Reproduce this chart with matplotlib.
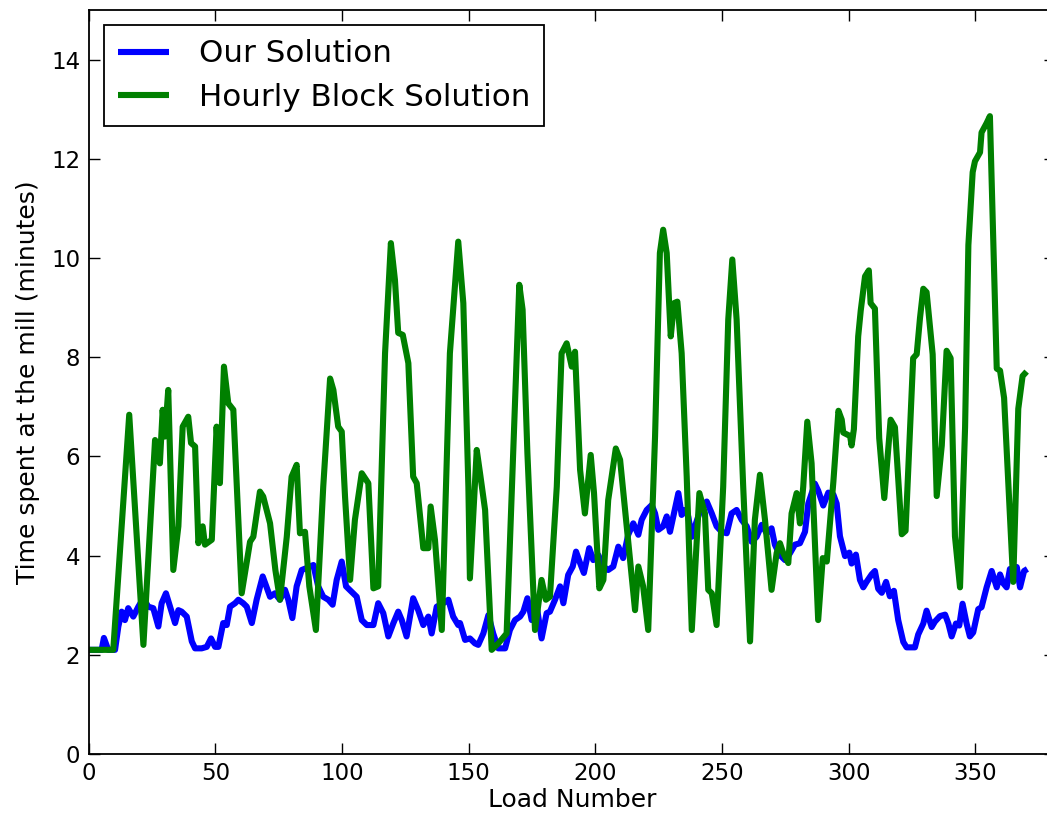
import matplotlib
matplotlib.use("Agg")
import matplotlib.pyplot as plt

# ---- data ----
our_load = [0, 5.1, 6.0, 7.7, 10.4, 11.7, 13.0, 14.3, 15.6, 17.6, 19.6, 21.6, 23.5, 25.5, 27.5,
            28.8, 30.5, 32.1, 34.1, 35.4, 36.7, 38.7, 40.7, 42.0, 44.6, 46.6, 48.3, 49.9, 51.2,
            53.1, 54.5, 55.8, 57.8, 59.1, 61.0, 62.4, 64.4, 66.3, 68.7, 71.6, 73.5, 75.5, 77.5,
            78.8, 80.4, 82.1, 84.1, 86.1, 88.7, 90.6, 92.6, 94.6, 96.3, 97.9, 99.9, 101.6, 103.8,
            105.8, 107.8, 109.8, 112.4, 114.3, 116.3, 118.3, 120.3, 122.2, 123.6, 125.5, 128.1,
            130.1, 132.1, 134.1, 135.4, 137.4, 140.0, 142.0, 143.9, 145.9, 146.6, 148.6, 150.5,
            152.5, 153.8, 155.8, 157.8, 159.7, 161.7, 164.4, 166.3, 168.3, 170.3, 171.6, 173.2,
            174.9, 176.9, 178.8, 180.8, 182.1, 184.1, 186.1, 187.4, 189.3, 191.1, 192.4, 194.0,
            195.5, 197.6, 199.2, 201.2, 203.2, 205.1, 207.1, 209.1, 211.0, 213.0, 215.0, 217.0,
            218.3, 220.3, 222.3, 223.6, 224.9, 226.8, 228.2, 229.5, 230.8, 232.8, 234.1, 235.4,
            236.7, 238.1, 240.0, 242.0, 244.0, 246.0, 247.9, 249.9, 251.9, 253.8, 255.8, 257.8,
            259.8, 261.7, 263.7, 265.7, 267.7, 269.6, 270.9, 272.9, 274.9, 276.9, 278.8, 280.8,
            282.8, 284.1, 286.7, 288.0, 290.0, 292.0, 294.0, 295.3, 296.6, 298.6, 300.3, 301.2,
            302.9, 304.5, 305.8, 307.1, 309.1, 310.4, 311.7, 313.1, 314.8, 316.3, 317.9, 319.6,
            321.6, 322.9, 326.2, 327.5, 329.5, 330.8, 332.8, 334.1, 336.1, 338.1, 339.4, 340.7,
            342.4, 343.7, 345.0, 346.6, 347.9, 349.2, 351.2, 352.5, 354.5, 356.5, 358.5, 359.8,
            361.1, 362.4, 363.7, 365.0, 366.4, 367.7, 369.3, 370.6]
our_time = [2.10, 2.10, 2.34, 2.10, 2.10, 2.57, 2.87, 2.70, 2.94, 2.77, 2.97, 3.14, 2.97, 2.94, 2.57,
            3.04, 3.24, 2.97, 2.64, 2.90, 2.87, 2.77, 2.27, 2.13, 2.13, 2.16, 2.33, 2.16, 2.16,
            2.64, 2.60, 2.97, 3.04, 3.11, 3.04, 2.97, 2.64, 3.11, 3.58, 3.17, 3.24, 3.11, 3.31,
            3.11, 2.74, 3.38, 3.71, 3.75, 3.81, 3.38, 3.17, 3.11, 3.01, 3.51, 3.88, 3.38, 3.27,
            3.17, 2.70, 2.60, 2.60, 3.04, 2.84, 2.37, 2.64, 2.87, 2.70, 2.37, 3.14,
            2.90, 2.60, 2.77, 2.43, 2.97, 3.04, 3.11, 2.77, 2.60, 2.64, 2.30, 2.33,
            2.23, 2.20, 2.43, 2.80, 2.43, 2.13, 2.13, 2.50, 2.70, 2.77, 2.87, 3.14,
            2.70, 2.97, 2.33, 2.84, 2.87, 3.11, 3.38, 3.04, 3.61, 3.78, 4.08, 3.85,
            3.65, 4.15, 3.91, 4.01, 3.78, 3.71, 3.78, 4.18, 3.95, 4.42, 4.65, 4.42,
            4.72, 4.92, 5.02, 4.85, 4.52, 4.59, 4.79, 4.48, 4.79, 5.26, 4.82, 4.92,
            4.79, 4.38, 4.69, 4.99, 5.09, 4.85, 4.59, 4.48, 4.45, 4.85, 4.92, 4.72,
            4.59, 4.28, 4.38, 4.62, 4.45, 4.55, 4.22, 4.01, 3.91, 4.05, 4.22, 4.25,
            4.48, 5.05, 5.45, 5.31, 5.01, 5.27, 5.23, 5.05, 4.39, 3.99, 4.06, 3.84,
            4.02, 3.51, 3.36, 3.47, 3.62, 3.69, 3.33, 3.25, 3.47, 3.18, 3.29, 2.70,
            2.26, 2.15, 2.15, 2.41, 2.63, 2.89, 2.56, 2.67, 2.78, 2.81, 2.63, 2.37,
            2.63, 2.59, 3.03, 2.63, 2.37, 2.45, 2.92, 2.96, 3.36, 3.69, 3.36, 3.62,
            3.44, 3.36, 3.73, 3.55, 3.77, 3.36, 3.69, 3.73]

hourly_load = [0, 9.7, 16.0, 21.6, 26.2, 28.1, 29.2, 30.1, 31.4, 33.4, 35.4, 37.1, 39.3, 40.4, 42.0,
               43.3, 45.0, 45.9, 48.6, 50.5, 51.8, 53.4, 55.1, 57.1, 60.4, 63.7, 65.0, 67.6, 68.9,
               71.6, 73.7, 75.5, 78.2, 80.1, 82.1, 83.4, 85.4, 87.1, 89.7, 92.6, 95.3, 96.6, 98.5,
               99.9, 101.2, 103.2, 105.1, 107.8, 110.4, 112.4, 114.3, 117.0, 119.3, 120.9, 122.2,
               124.0, 126.2, 128.1, 129.5, 132.1, 134.1, 135.0, 136.7, 139.4, 142.6, 145.9, 147.9,
               149.9, 150.5, 153.2, 154.5, 156.5, 159.1, 161.7, 165.0, 167.6, 170.0, 171.3, 173.2,
               176.2, 178.8, 180.5, 182.1, 184.8, 186.7, 188.7, 190.7, 192.0, 194.0, 195.9, 198.2,
               199.5, 201.6, 203.2, 205.1, 208.1, 209.8, 212.4, 215.7, 217.0, 218.9, 220.9, 223.6,
               225.5, 226.8, 228.2, 229.8, 231.1, 232.4, 234.1, 236.1, 238.1, 241.1, 243.3, 244.6,
               246.0, 247.9, 250.5, 252.5, 254.1, 255.8, 258.4, 261.1, 263.0, 265.0, 267.0, 269.6,
               271.6, 272.9, 274.2, 276.2, 277.5, 279.5, 280.8, 282.1, 283.7, 285.4, 288.0, 289.8,
               291.4, 294.0, 296.0, 297.3, 297.9, 300.6, 301.2, 302.1, 303.8, 304.8, 306.5, 308.0,
               308.7, 310.4, 312.1, 314.1, 316.6, 318.3, 321.0, 322.5, 325.5, 326.9, 328.2, 329.5,
               330.8, 333.2, 334.8, 336.8, 338.7, 340.3, 342.0, 344.0, 346.0, 347.3, 349.0, 349.9,
               351.9, 352.5, 354.5, 355.8, 358.5, 359.8, 361.4, 365.0, 367.0, 368.7, 370.3]
hourly_time = [2.10, 2.10, 6.84, 2.20, 6.33, 5.86, 6.94, 6.40, 7.34, 3.71, 4.59, 6.60, 6.80, 6.27, 6.20,
               4.25, 4.59, 4.22, 4.32, 6.60, 5.46, 7.81, 7.07, 6.94, 3.24, 4.28, 4.38, 5.29, 5.19,
               4.65, 3.71, 3.11, 4.38, 5.59, 5.83, 4.45, 4.48, 3.38, 2.50, 5.39, 7.57, 7.34, 6.60,
               6.50, 5.19, 3.51, 4.72, 5.66, 5.46, 3.34, 3.38, 8.08, 10.30, 9.56, 8.49,
               8.45, 7.88, 5.59, 5.46, 4.15, 4.15, 4.99, 4.32, 2.50, 8.08, 10.33, 9.09,
               5.39, 3.54, 6.13, 5.66, 4.92, 2.10, 2.23, 2.43, 6.07, 9.46, 8.96, 6.07,
               2.50, 3.51, 3.11, 3.17, 5.39, 8.08, 8.28, 7.81, 8.11, 5.73, 4.85, 6.03,
               5.26, 3.34, 3.51, 5.12, 6.16, 5.93, 4.60, 2.90, 3.78, 3.38, 2.50, 6.40,
               10.10, 10.57, 10.10, 8.42, 9.09, 9.12, 8.08, 5.59, 2.50, 5.26, 4.85, 3.31,
               3.24, 2.60, 5.39, 8.76, 9.97, 8.76, 5.39, 2.27, 4.72, 5.63, 4.72, 3.31,
               4.05, 4.25, 4.05, 3.85, 4.85, 5.26, 4.65, 5.39, 6.70, 5.86, 2.70, 3.95,
               3.88, 5.49, 6.92, 6.74, 6.48, 6.41, 6.22, 6.55, 8.42, 8.94, 9.63, 9.75,
               9.09, 8.98, 6.37, 5.16, 6.74, 6.59, 4.43, 4.50, 7.98, 8.06, 8.79, 9.38,
               9.31, 8.06, 5.20, 6.22, 8.13, 7.98, 4.39, 3.36, 6.59, 10.26, 11.73, 11.95,
               12.13, 12.53, 12.72, 12.86, 7.77, 7.73, 7.18, 3.47, 6.96, 7.62, 7.71]

series_labels = ["Our Solution", "Hourly Block Solution"]
x_label = "Load Number"
y_label = "Time spent at the mill (minutes)"
x_ticks = [0, 50, 100, 150, 200, 250, 300, 350]
y_ticks = [0, 2, 4, 6, 8, 10, 12, 14]

# ---- figure ----
W, H = 1047, 823
fig = plt.figure(figsize=(W / 100, H / 100), dpi=100)
ax = fig.add_axes([88.7 / W, 69 / H, 966.3 / W, 744 / H])

ax.plot(our_load, our_time, color="#0000ff", lw=4.4, label=series_labels[0],
        solid_joinstyle="round", solid_capstyle="butt")
ax.plot(hourly_load, hourly_time, color="#008000", lw=4.4, label=series_labels[1],
        solid_joinstyle="round", solid_capstyle="butt")

ax.set_xlim(0, 381.5)
ax.set_ylim(0, 15)
ax.set_xticks(x_ticks)
ax.set_yticks(y_ticks)
ax.tick_params(direction="in", length=8, width=1, top=True, right=True,
               labelsize=16.5, pad=6, colors="black")
for s in ax.spines.values():
    s.set_linewidth(1.3)
ax.set_xlabel(x_label, fontsize=18, labelpad=2)
ax.set_ylabel(y_label, fontsize=18, labelpad=8)

leg = ax.legend(loc="upper left", fontsize=22.3, handlelength=1.65, handletextpad=0.95,
                borderpad=0.45, labelspacing=0.48, borderaxespad=0.5, fancybox=False,
                framealpha=1)
leg.get_frame().set_edgecolor("black")
leg.get_frame().set_linewidth(1.3)

fig.savefig("out.png", dpi=100)
